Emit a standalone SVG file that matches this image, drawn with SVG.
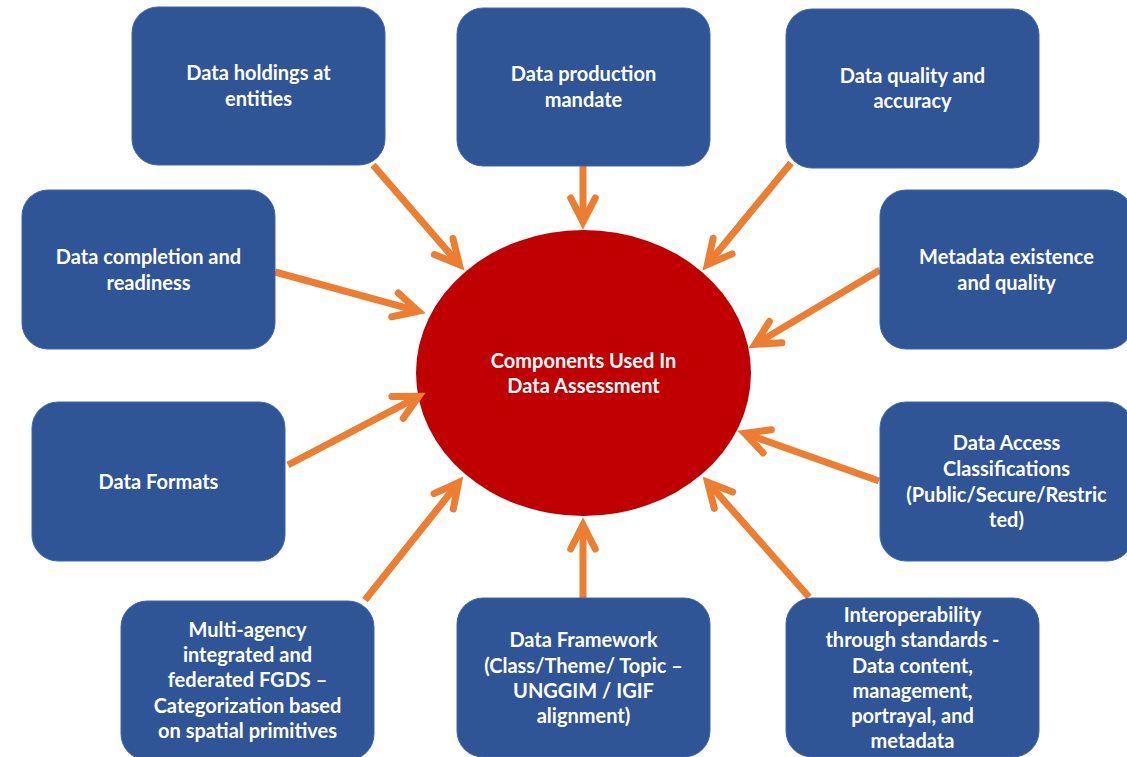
<svg xmlns="http://www.w3.org/2000/svg" width="1127" height="757" viewBox="0 0 1127 757">
<defs>
<style>
.box{fill:#2F5597;stroke:#3C67AD;stroke-width:1}
.t{fill:#FFFFFF;font-family:Lato,"Liberation Sans",sans-serif;font-weight:bold;font-size:20px;text-anchor:middle}
.c{fill:none;stroke:#ED7D31;stroke-width:7;stroke-linecap:butt;marker-end:url(#ah)}
</style>
<marker id="ah" markerUnits="userSpaceOnUse" markerWidth="60" markerHeight="60" refX="0" refY="0" orient="auto" style="overflow:visible">
<path d="M-24,-12.3 L0,0 L-24,12.3" fill="none" stroke="#ED7D31" stroke-width="7" stroke-linecap="round" stroke-linejoin="miter"/>
</marker>
</defs>
<rect width="1127" height="757" fill="#FFFFFF"/>
<g id="center">
<ellipse cx="583.5" cy="373" rx="167.5" ry="143" fill="#C00000"/>
<text class="t" x="583.5" y="368">Components Used In</text>
<text class="t" x="583.5" y="393">Data Assessment</text>
</g>
<g id="connectors">
<line class="c" x1="373" y1="165" x2="459.4" y2="264.7"/>
<line class="c" x1="583" y1="166" x2="583" y2="222"/>
<line class="c" x1="791" y1="163" x2="707.4" y2="264.6"/>
<line class="c" x1="880" y1="270" x2="755" y2="344.4"/>
<line class="c" x1="275" y1="272" x2="418.2" y2="311.2"/>
<line class="c" x1="288" y1="465" x2="418.8" y2="396.3"/>
<line class="c" x1="365" y1="600" x2="458.6" y2="482.5"/>
<line class="c" x1="583" y1="598" x2="583" y2="525"/>
<line class="c" x1="809" y1="597" x2="707.6" y2="482.2"/>
<line class="c" x1="879" y1="481" x2="744.6" y2="433.3"/>
</g>
<g id="n1">
<rect class="box" x="132" y="7" width="253" height="158" rx="26"/>
<text class="t" x="258.5" y="80">Data holdings at</text>
<text class="t" x="258.5" y="106">entities</text>
</g>
<g id="n2">
<rect class="box" x="457" y="8" width="253" height="158" rx="26"/>
<text class="t" x="583.5" y="81">Data production</text>
<text class="t" x="583.5" y="107">mandate</text>
</g>
<g id="n3">
<rect class="box" x="786" y="9" width="253" height="159" rx="26"/>
<text class="t" x="912.5" y="83">Data quality and</text>
<text class="t" x="912.5" y="108">accuracy</text>
</g>
<g id="n4">
<rect class="box" x="22" y="190" width="253" height="159" rx="26"/>
<text class="t" x="148.5" y="264">Data completion and</text>
<text class="t" x="148.5" y="290">readiness</text>
</g>
<g id="n5">
<rect class="box" x="880" y="190" width="253" height="159" rx="26"/>
<text class="t" x="1006.5" y="264">Metadata existence</text>
<text class="t" x="1006.5" y="290">and quality</text>
</g>
<g id="n6">
<rect class="box" x="32" y="402" width="253" height="159" rx="26"/>
<text class="t" x="158.5" y="489">Data Formats</text>
</g>
<g id="n7">
<rect class="box" x="880" y="402" width="253" height="159" rx="26"/>
<text class="t" x="1006.5" y="450">Data Access</text>
<text class="t" x="1006.5" y="476">Classifications</text>
<text class="t" x="1006.5" y="502">(Public/Secure/Restric</text>
<text class="t" x="1006.5" y="527">ted)</text>
</g>
<g id="n8">
<rect class="box" x="121" y="601" width="253" height="159" rx="26"/>
<text class="t" x="247.5" y="637">Multi-agency</text>
<text class="t" x="247.5" y="662">integrated and</text>
<text class="t" x="247.5" y="687">federated FGDS –</text>
<text class="t" x="247.5" y="713">Categorization based</text>
<text class="t" x="247.5" y="738">on spatial primitives</text>
</g>
<g id="n9">
<rect class="box" x="457" y="598" width="253" height="159" rx="26"/>
<text class="t" x="583.5" y="647">Data Framework</text>
<text class="t" x="583.5" y="673">(Class/Theme/ Topic –</text>
<text class="t" x="583.5" y="698">UNGGIM / IGIF</text>
<text class="t" x="583.5" y="723">alignment)</text>
</g>
<g id="n10">
<rect class="box" x="786" y="598" width="253" height="159" rx="26"/>
<text class="t" x="912.5" y="622">Interoperability</text>
<text class="t" x="912.5" y="647">through standards -</text>
<text class="t" x="912.5" y="673">Data content,</text>
<text class="t" x="912.5" y="698">management,</text>
<text class="t" x="912.5" y="723">portrayal, and</text>
<text class="t" x="912.5" y="748">metadata</text>
</g>
</svg>
